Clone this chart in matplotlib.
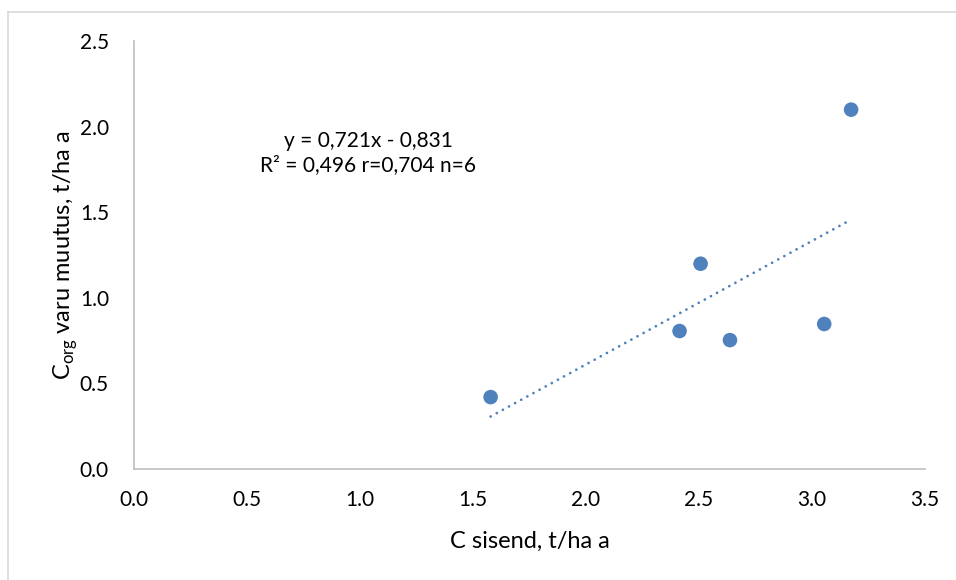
import matplotlib
matplotlib.use("Agg")
import matplotlib.pyplot as plt
from matplotlib.lines import Line2D
import numpy as np

plt.rcParams['font.family'] = ['Lato', 'DejaVu Sans']

# Data
c_input = [1.578, 2.414, 2.507, 2.637, 3.054, 3.173]
c_org_change = [0.42, 0.806, 1.199, 0.753, 0.847, 2.099]
slope = 0.721
intercept = -0.831
x_ticks = [0.0, 0.5, 1.0, 1.5, 2.0, 2.5, 3.0, 3.5]
y_ticks = [0.0, 0.5, 1.0, 1.5, 2.0, 2.5]
eq_text = "y = 0,721x - 0,831\nR² = 0,496 r=0,704 n=6"

blue = '#4F81BD'
W, H = 956, 580
fig = plt.figure(figsize=(W/100, H/100), dpi=100)
ax = fig.add_axes([134/W, (H-469)/H, (925-134)/W, (469-41)/H])

# outer border (top and left visible)
fig.add_artist(Line2D([7.5/W, 1.0], [1-11.5/H, 1-11.5/H], transform=fig.transFigure, color='#D9D9D9', lw=1.2))
fig.add_artist(Line2D([7.5/W, 7.5/W], [0, 1-11.5/H], transform=fig.transFigure, color='#D9D9D9', lw=1.2))

# trendline
tx = np.array([min(c_input), max(c_input)])
ty = slope * tx + intercept
ax.plot(tx, ty, color=blue, lw=2.0, linestyle=(0, (0.01, 2.5)), dash_capstyle='round', zorder=2)

ax.scatter(c_input, c_org_change, s=110, color=blue, edgecolors='none', zorder=3)

ax.set_xlim(0, 3.5)
ax.set_ylim(0, 2.5)
ax.set_xticks(x_ticks)
ax.set_yticks(y_ticks)
ax.set_xticklabels([f"{v:.1f}" for v in x_ticks])
ax.set_yticklabels([f"{v:.1f}" for v in y_ticks])
ax.tick_params(length=0, labelsize=15, pad=15, colors='black')
ax.tick_params(axis='y', pad=18)

for s in ['top', 'right']:
    ax.spines[s].set_visible(False)
for s in ['left', 'bottom']:
    ax.spines[s].set_color('#BFBFBF')
    ax.spines[s].set_linewidth(1.2)

ax.set_xlabel("C sisend, t/ha a", fontsize=17, labelpad=15)
ax.set_ylabel(r"C$_{\mathregular{org}}$ varu muutus, t/ha a", fontsize=17, labelpad=0)

ax.text(368/W, 1-153/H, eq_text, transform=fig.transFigure, ha='center', va='center',
        fontsize=15, linespacing=1.25)

fig.savefig("out.png", dpi=100)
